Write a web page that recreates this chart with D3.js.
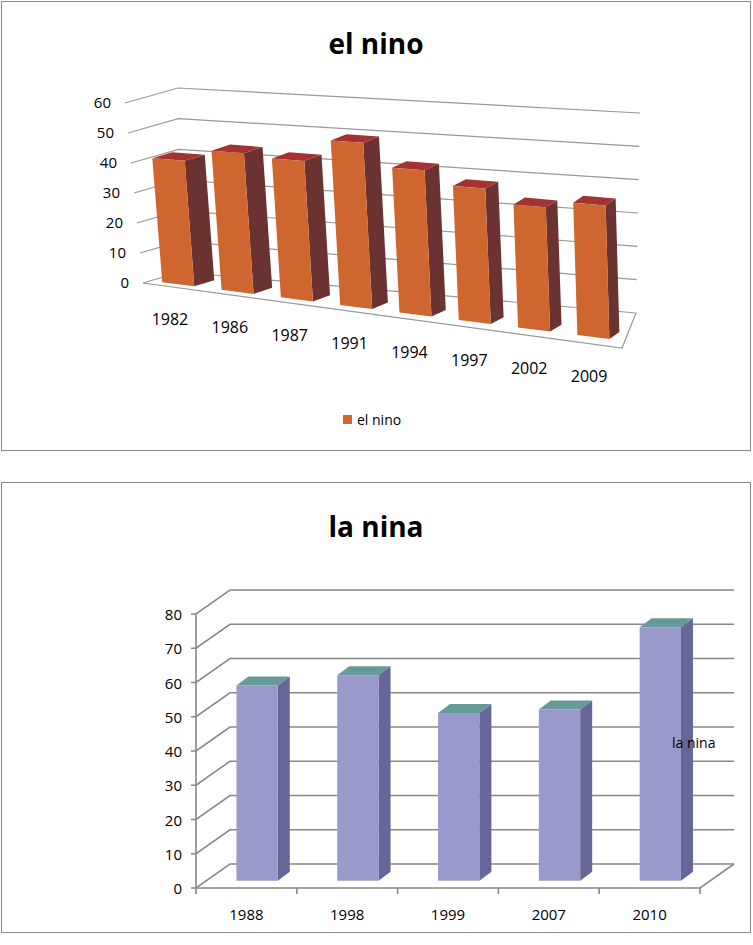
<!DOCTYPE html>
<html><head><meta charset="utf-8">
<script src="https://cdn.jsdelivr.net/npm/d3@7"></script>
<style>body{margin:0;background:#fff}</style></head>
<body><svg id="c" width="753" height="945"></svg>
<script>
const ninoCats=["1982","1986","1987","1991","1994","1997","2002","2009"];
const ninoVals=[41,45,44,51,44,40,36,38];
const ninoTicks=[0,10,20,30,40,50,60];
const ninaCats=["1988","1998","1999","2007","2010"];
const ninaVals=[57,60,49,50,74];
const ninaTicks=[0,10,20,30,40,50,60,70,80];
const F="'Open Sans','Liberation Sans',Arial,sans-serif";
const svg=d3.select("#c");
svg.append("rect").attr("x",1.5).attr("y",1.5).attr("width",749).attr("height",449).attr("fill","#fff").attr("stroke","#888");
svg.append("rect").attr("x",1.5).attr("y",482.5).attr("width",749).attr("height",450).attr("fill","#fff").attr("stroke","#888");
const grid="#999";
// ---------- TOP: el nino ----------
{
 const C={FBL:[143,283],FBR:[622,348],BBL:[180,272],BBR:[636,313],FTL:[125,103],FTR:[614,133],BTL:[178,88],BTR:[640,113]};
 const xs=d3.scaleLinear().domain([0,ninoCats.length]).range([0,1]);
 const vs=d3.scaleLinear().domain([0,60]).range([0,1]);
 const L=(a,b,t)=>[a[0]+(b[0]-a[0])*t,a[1]+(b[1]-a[1])*t];
 function P(xi,v,z){const x=xs(xi),h=vs(v);
  const fb=L(C.FBL,C.FBR,x),bb=L(C.BBL,C.BBR,x),ft=L(C.FTL,C.FTR,x),bt=L(C.BTL,C.BTR,x);
  return L(L(fb,bb,z),L(ft,bt,z),h);}
 const g=svg.append("g");
 const line=pts=>g.append("path").attr("d",d3.line()(pts)).attr("fill","none").attr("stroke",grid).attr("stroke-width",1.2);
 ninoTicks.forEach(t=>{line([P(0,t,0),P(0,t,1),P(8,t,1)]);
  const p=P(0,t,0);g.append("text").attr("x",p[0]-14).attr("y",p[1]+5).attr("text-anchor","end").attr("font-family",F).attr("font-size",15).attr("fill","#000").text(t);});
 line([P(0,0,0),P(8,0,0),P(8,0,1)]);
 ninoVals.forEach((v,i)=>{
  const t=i/7, d=[20-10*t,-6-1*t];
  const a=P(i+0.2,0,0.2),b=P(i+0.74,0,0.2),c=P(i+0.74,v,0.2),e=P(i+0.2,v,0.2);
  const s=p=>[p[0]+d[0],p[1]+d[1]];
  g.append("path").attr("d",d3.line()([b,s(b),s(c),c])+"Z").attr("fill","#6B3232");
  g.append("path").attr("d",d3.line()([e,c,s(c),s(e)])+"Z").attr("fill","#A33232");
  g.append("path").attr("d",d3.line()([a,b,c,e])+"Z").attr("fill","#D0662F");
  const m=P(i+0.5,0,0);
  g.append("text").attr("x",m[0]-3).attr("y",m[1]+38).attr("text-anchor","middle").attr("font-family",F).attr("font-size",16).text(ninoCats[i]);
 });
 svg.append("text").attr("x",376).attr("y",54).attr("text-anchor","middle").attr("font-family",F).attr("font-weight","bold").attr("font-size",28).text("el nino");
 svg.append("rect").attr("x",343).attr("y",415).attr("width",9).attr("height",9).attr("fill","#D0662F");
 svg.append("text").attr("x",357).attr("y",425).attr("font-family",F).attr("font-size",14).text("el nino");
}
// ---------- BOTTOM: la nina ----------
{
 const x0=196,x1=700,dx=34,dy=-24;
 const xs=d3.scaleLinear().domain([0,ninaCats.length]).range([x0,x1]);
 const ys=d3.scaleLinear().domain([0,80]).range([888,614]);
 const P=(xi,v,z)=>[xs(xi)+dx*z,ys(v)+dy*z];
 const g=svg.append("g");
 const line=pts=>g.append("path").attr("d",d3.line()(pts)).attr("fill","none").attr("stroke","#888").attr("stroke-width",1.6);
 ninaTicks.forEach(t=>{line([[x0-5,ys(t)],P(0,t,0),P(0,t,1),P(5,t,1)]);
  g.append("text").attr("x",x0-14).attr("y",ys(t)+6).attr("text-anchor","end").attr("font-family",F).attr("font-size",15).text(t);});
 line([P(0,0,0),P(0,80,0)]);
 line([P(0,0,0),P(5,0,0),P(5,0,1)]);
 d3.range(6).forEach(i=>line([P(i,0,0),[xs(i),ys(0)+6]]));
 ninaVals.forEach((v,i)=>{
  const z=0.3,a=P(i+0.3,0,z),b=P(i+0.71,0,z),c=P(i+0.71,v,z),e=P(i+0.3,v,z);
  const s=p=>[p[0]+12,p[1]-9];
  g.append("path").attr("d",d3.line()([b,s(b),s(c),c])+"Z").attr("fill","#666699");
  g.append("path").attr("d",d3.line()([e,c,s(c),s(e)])+"Z").attr("fill","#669999");
  g.append("path").attr("d",d3.line()([a,b,c,e])+"Z").attr("fill","#9999CC");
  g.append("text").attr("x",xs(i+0.5)).attr("y",920).attr("text-anchor","middle").attr("font-family",F).attr("font-size",15).text(ninaCats[i]);
 });
 svg.append("text").attr("x",376).attr("y",537).attr("text-anchor","middle").attr("font-family",F).attr("font-weight","bold").attr("font-size",28).text("la nina");
 svg.append("text").attr("x",672).attr("y",748).attr("font-family",F).attr("font-size",14).text("la nina");
}
</script></body></html>
